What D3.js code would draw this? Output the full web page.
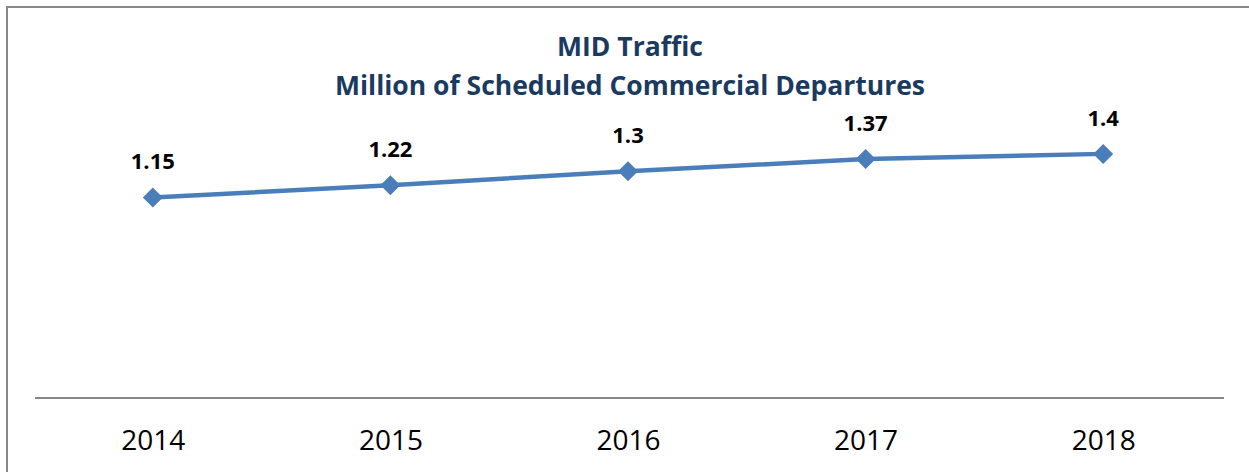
<!DOCTYPE html>
<html>
<head>
<meta charset="utf-8">
<script src="https://cdn.jsdelivr.net/npm/d3@7"></script>
<style>
  body { margin: 0; background: #fff; }
  svg { display: block; }
</style>
</head>
<body>
<svg width="1249" height="472"></svg>
<script>
// chart data
const years = ["2014", "2015", "2016", "2017", "2018"];
const departures = [1.15, 1.22, 1.3, 1.37, 1.4];
const titleLines = ["MID Traffic", "Million of Scheduled Commercial Departures"];

const svg = d3.select("svg");
const width = +svg.attr("width");
const height = +svg.attr("height");
const font = "'Open Sans', 'Noto Sans', sans-serif";

const margin = { left: 34, right: 27, top: 119, bottom: 74 };

// outer chart border (right/bottom edges run off the picture)
svg.append("rect")
    .attr("x", 7)
    .attr("y", 7)
    .attr("width", width + 20)
    .attr("height", height + 20)
    .attr("fill", "none")
    .attr("stroke", "#898989")
    .attr("stroke-width", 2);

const x = d3.scalePoint()
    .domain(years)
    .range([margin.left, width - margin.right])
    .padding(0.5);

const y = d3.scaleLinear()
    .domain([0, 1.6])
    .range([height - margin.bottom, margin.top]);

// title
svg.append("text")
    .attr("x", 630)
    .attr("y", 56)
    .attr("text-anchor", "middle")
    .style("font-family", font)
    .style("font-weight", "bold")
    .style("font-size", "26.5px")
    .attr("fill", "#1b3a5f")
    .selectAll("tspan")
    .data(titleLines)
    .join("tspan")
    .attr("x", 630)
    .attr("dy", (d, i) => i === 0 ? 0 : 39)
    .text(d => d);

// x axis
const xAxis = d3.axisBottom(x).tickSize(0).tickPadding(32);
const gx = svg.append("g")
    .attr("transform", `translate(0,${y(0)})`)
    .call(xAxis);
gx.select(".domain")
    .attr("d", `M${margin.left + 1},0H${width - margin.right + 2}`)
    .attr("stroke", "#868686")
    .attr("stroke-width", 2);
gx.selectAll("text")
    .style("font-family", font)
    .style("font-size", "28px")
    .attr("fill", "#000");

const data = years.map((yr, i) => ({ year: yr, value: departures[i] }));

// line
const line = d3.line()
    .x(d => x(d.year))
    .y(d => y(d.value));

svg.append("path")
    .datum(data)
    .attr("d", line)
    .attr("fill", "none")
    .attr("stroke", "#4a7ebb")
    .attr("stroke-width", 4.5)
    .attr("stroke-linejoin", "round");

// diamond markers
svg.selectAll(".marker")
    .data(data)
    .join("path")
    .attr("class", "marker")
    .attr("transform", d => `translate(${x(d.year)},${y(d.value)})`)
    .attr("d", "M0,-10L10,0L0,10L-10,0Z")
    .attr("fill", "#4a7ebb");

// value labels
svg.selectAll(".label")
    .data(data)
    .join("text")
    .attr("class", "label")
    .attr("x", d => x(d.year))
    .attr("y", d => y(d.value) - 28)
    .attr("text-anchor", "middle")
    .style("font-family", font)
    .style("font-weight", "bold")
    .style("font-size", "22px")
    .attr("fill", "#000")
    .text(d => d.value);
</script>
</body>
</html>
